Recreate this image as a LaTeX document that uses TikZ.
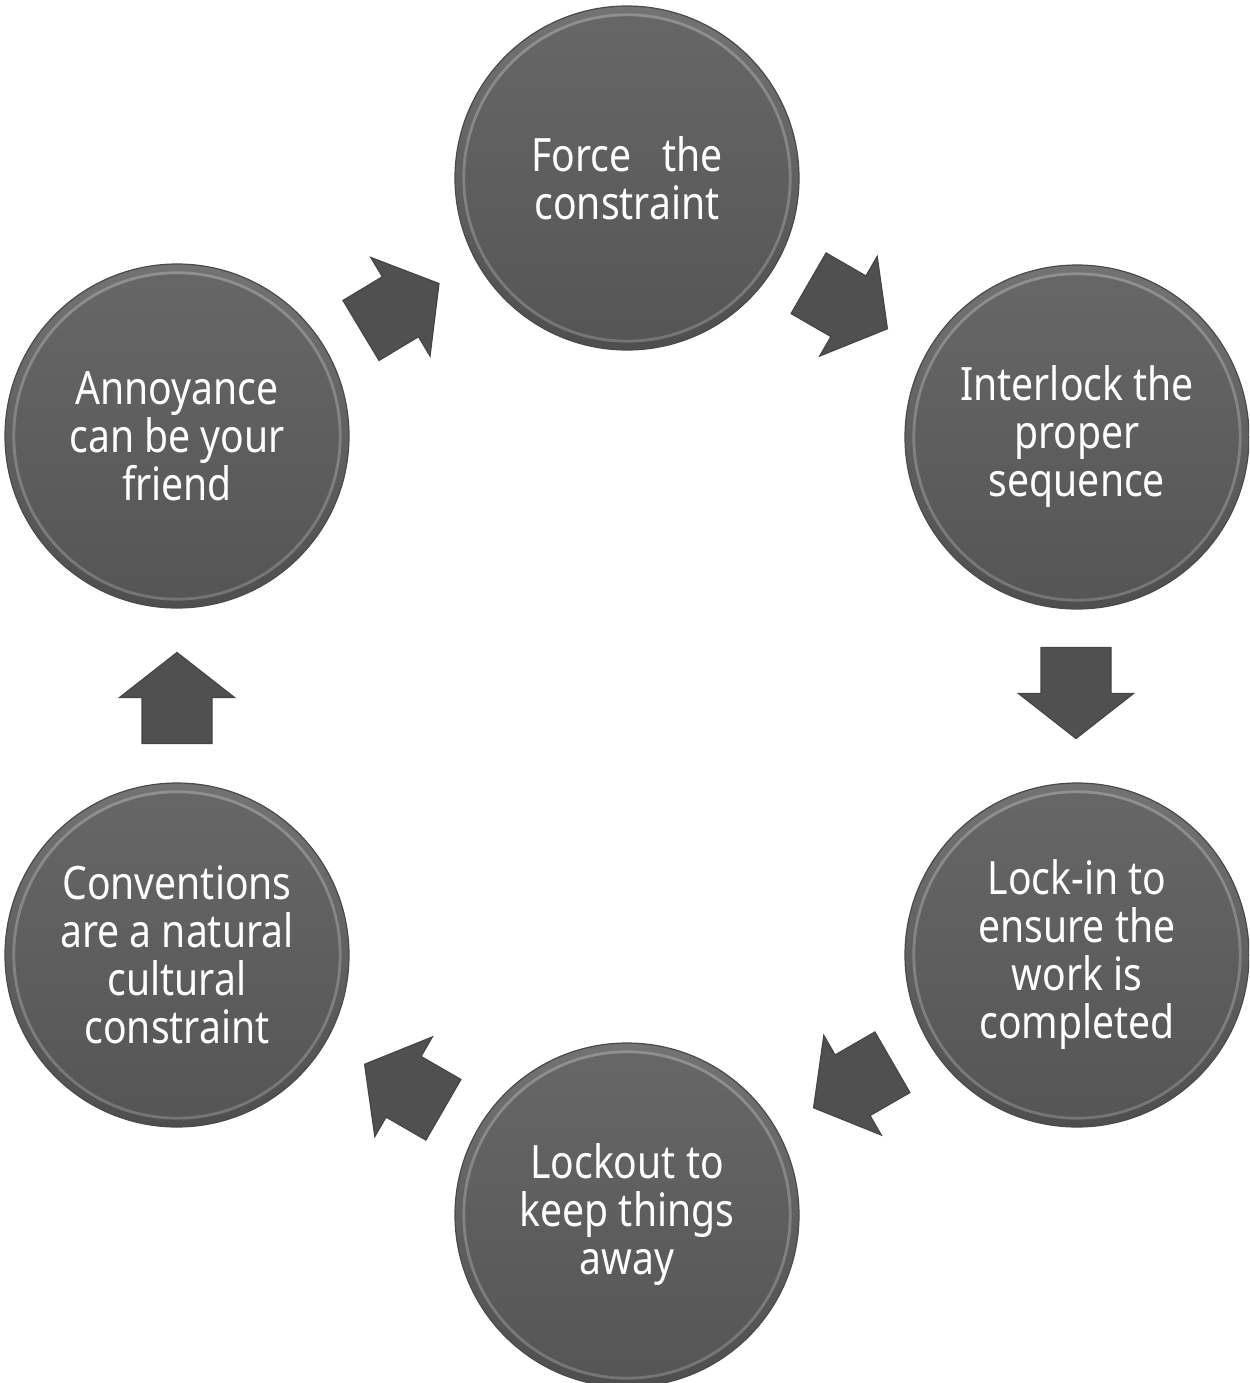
\documentclass[tikz,border=0pt]{standalone}
\usepackage{fontspec}
\setmainfont[FakeStretch=0.85]{Noto Sans}
\definecolor{rimtop}{HTML}{737373}
\definecolor{rimbot}{HTML}{4E4E4E}
\definecolor{rimline}{HTML}{4A4A4A}
\definecolor{intop}{HTML}{676767}
\definecolor{inbot}{HTML}{555555}
\definecolor{arrfill}{HTML}{505050}
\definecolor{arrline}{HTML}{454545}
\tikzset{
  disc/.style={circle, minimum size=172pt, inner sep=0pt,
    top color=rimtop, bottom color=rimbot, draw=rimline, line width=0.6pt,
    path picture={
      \shade[top color=intop, bottom color=inbot]
        (path picture bounding box.center) circle[radius=81pt];
      \draw[white, opacity=.22, line width=1.4pt]
        (path picture bounding box.center) circle[radius=81.6pt];
    },
    text=white, align=center, font=\fontsize{23}{24}\selectfont},
  blockarr/.pic={
    \fill[arrfill, draw=arrline, line width=0.6pt, line join=miter]
      (-45.5,-35) -- (0.5,-35) -- (0.5,-57.5) -- (45.5,0) -- (0.5,57.5)
      -- (0.5,35) -- (-45.5,35) -- cycle;
  }
}
\begin{document}
\begin{tikzpicture}[x=0.5pt, y=-0.5pt]
\useasboundingbox (0,0) rectangle (1249,1383);
\clip (0,0) rectangle (1249,1383);
\fill[white] (0,0) rectangle (1249,1383);

\node[disc] (c1) at (627,178) {Force\ \ \ the\\constraint};
\node[disc] (c2) at (1077,437) {Interlock the\\proper\\sequence};
\node[disc] (c3) at (1077,955) {Lock-in to\\ensure the\\work is\\completed};
\node[disc] (c4) at (627,1215) {Lockout to\\keep things\\away};
\node[disc] (c5) at (177,955) {Conventions\\are a natural\\cultural\\constraint};
\node[disc] (c6) at (177,436) {Annoyance\\can be your\\friend};

\pic[rotate=31]  at (400,307)  {blockarr};
\pic[rotate=-30] at (848,306)  {blockarr};
\pic[rotate=-90] at (1076,693) {blockarr};
\pic[rotate=210] at (853,1085) {blockarr};
\pic[rotate=150] at (404,1087) {blockarr};
\pic[rotate=90]  at (177,698)  {blockarr};
\end{tikzpicture}
\end{document}
